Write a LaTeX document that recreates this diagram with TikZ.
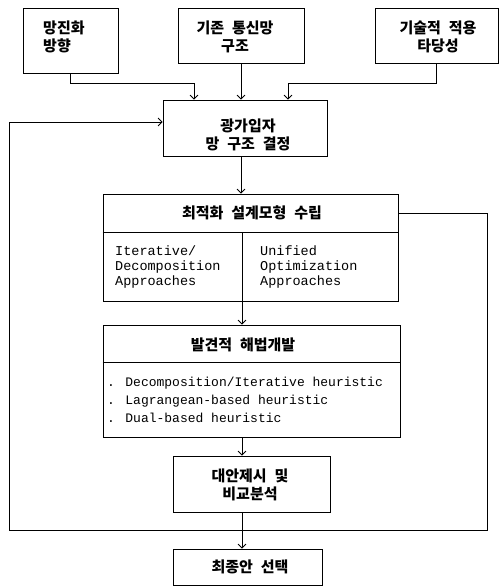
\documentclass[tikz,border=0pt]{standalone}
\usepackage{fontspec}
\setmainfont{Liberation Serif}
\newfontfamily\kr[WordSpace=2.3]{Noto Sans CJK KR}
\newfontfamily\mono{Liberation Mono}
\usetikzlibrary{arrows.meta,calc}
\begin{document}
\begin{tikzpicture}[x=1pt,y=-1pt,
  bx/.style={draw,line width=0.8pt,inner sep=0pt},
  kt/.style={inner sep=0pt,align=center,font=\kr\bfseries\fontsize{15}{18}\selectfont},
  mt/.style={inner sep=0pt,align=left,anchor=west,font=\mono\fontsize{13.5}{15}\selectfont},
  lt/.style={inner sep=0pt,align=left,anchor=west,font=\mono\fontsize{13}{18}\selectfont},
  ln/.style={line width=0.8pt},
  arr/.style={line width=0.8pt,-{Straight Barb[length=4pt,width=8pt]}}]
\useasboundingbox (0,0) rectangle (499,586);
% boxes
\node[bx,minimum width=95pt,minimum height=65pt] (b1) at (70.5,40.5) {};
\node[bx,minimum width=126pt,minimum height=55pt] (b2) at (241,35.5) {};
\node[bx,minimum width=123.5pt,minimum height=55pt] (b3) at (436.75,35.5) {};
\node[bx,minimum width=164pt,minimum height=56pt] (b4) at (245,128) {};
\node[bx,minimum width=295pt,minimum height=107pt] (b5) at (250.5,247.5) {};
\node[bx,minimum width=297pt,minimum height=112pt] (b6) at (251.5,381) {};
\node[bx,minimum width=157pt,minimum height=56pt] (b7) at (251.5,484) {};
\node[bx,minimum width=149pt,minimum height=36.5pt] (b8) at (247.5,567.25) {};
% texts
\node[kt,align=left,anchor=west] (b1t) at (43,37) {망진화\\방향};
\node[kt] (b2t) at (235,37) {기존 통신망\\구조};
\node[kt] (b3t) at (438,37) {기술적 적용\\타당성};
\node[kt] (b4t) at (248,135) {광가입자\\망 구조 결정};
\node[kt] (b5t) at (252,213) {최적화 설계모형 수립};
\node[mt] (b5l) at (115,267) {Iterative/\\Decomposition\\Approaches};
\node[mt] (b5r) at (260,267) {Unified\\Optimization\\Approaches};
\node[kt] (b6t) at (243,345) {발견적 해법개발};
\node[lt] (b6l) at (107,400) {. Decomposition/Iterative heuristic\\. Lagrangean-based heuristic\\. Dual-based heuristic};
\node[kt] (b7t) at (250,485) {대안제시 및\\비교분석};
\node[kt] (b8t) at (250,567) {최종안 선택};
% dividers
\coordinate (d1) at (0,232);
\coordinate (d2) at (0,362);
\coordinate (colx) at (242,0);
\coordinate (coly) at (241,0);
\draw[ln] (b5.west |- d1) -- (b5.east |- d1);
\draw[ln] (b6.west |- d2) -- (b6.east |- d2);
\draw[ln] (d1 -| colx) -- (b5.south -| colx);
% connectors
\coordinate (j1) at (194,83);
\coordinate (j3) at (288,83);
\draw[arr] (b1.south) |- (j1) -- (j1 |- b4.north);
\draw[arr] (b2.south -| coly) -- (b4.north -| coly);
\draw[arr] (b3.south) |- (j3) -- (j3 |- b4.north);
\draw[arr] (b4.south -| coly) -- (b5.north -| coly);
\draw[arr] (b5.south -| colx) -- (b6.north -| colx);
\draw[arr] (b6.south -| colx) -- (b7.north -| colx);
\draw[arr] (b7.south -| colx) -- (b8.north -| colx);
\coordinate (fr) at (487,530);
\coordinate (fl) at (9,530);
\draw[arr] (b5.east |- b5t) -| (fr) -- (fl) |- ([yshift=6pt]b4.west);
\end{tikzpicture}
\end{document}
